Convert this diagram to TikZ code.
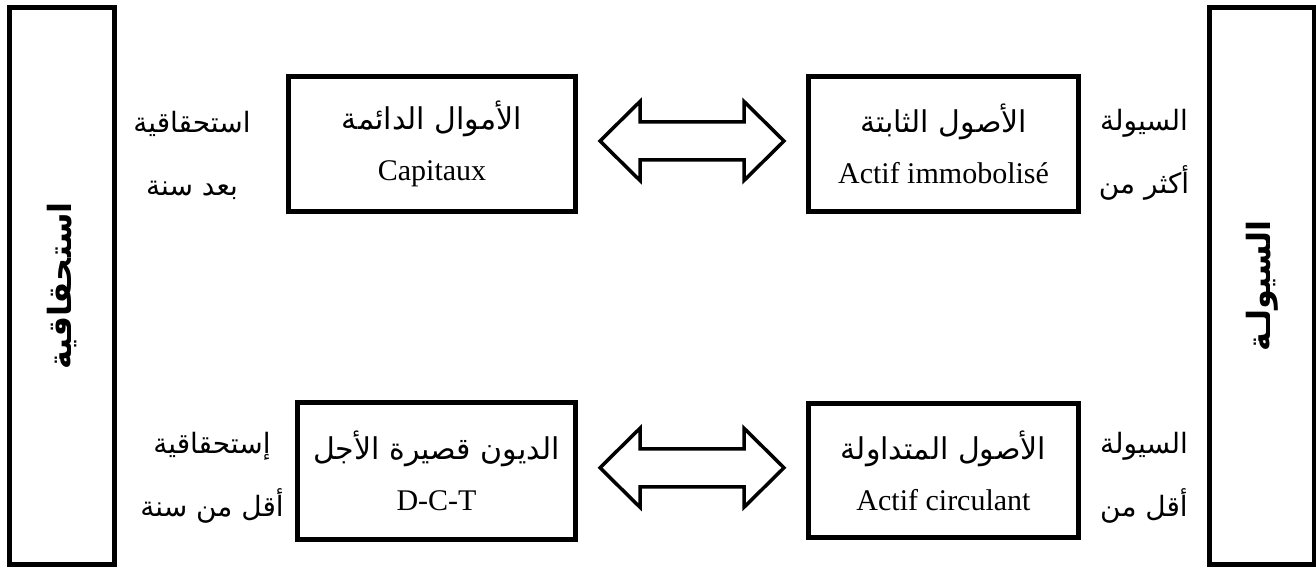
\documentclass[tikz,border=0pt]{standalone}
\usepackage{fontspec}
\usetikzlibrary{calc}
\setmainfont{Liberation Serif}
\newfontfamily\arabicfont[Script=Arabic]{DejaVu Sans}
\TeXXeTstate=1
\newcommand{\AR}[1]{{\arabicfont\beginR #1\endR}}
\begin{document}
\begin{tikzpicture}[x=1pt,y=-1pt,
  box/.style={draw, line width=5pt, inner sep=0pt, align=center,
    font=\fontsize{30}{51}\selectfont},
  tallbox/.style={draw, line width=5pt, inner sep=0pt, rotate=90,
    minimum width=557pt, minimum height=105pt,
    font=\arabicfont\bfseries\fontsize{32}{38}\selectfont},
  lbl/.style={inner sep=0pt, align=center, font=\fontsize{28}{63}\selectfont},
  dbl/.style={draw, line width=3.5pt, line join=miter}]
\useasboundingbox (0,0) rectangle (1316,569);

\node[tallbox] (liab) at (62,286) {\AR{استحقاقية}};
\node[tallbox] (liq) at (1262,286) {\AR{السيولـة}};

\node[box, minimum width=287pt, minimum height=135pt] (cap) at (432,144)
  {\AR{الأموال الدائمة}\\Capitaux};
\node[box, minimum width=270pt, minimum height=135pt] (imm) at (943.5,144)
  {\AR{الأصول الثابتة}\\Actif immobolisé};
\node[box, minimum width=278pt, minimum height=137pt] (dct) at (436.5,471)
  {\AR{الديون قصيرة الأجل}\\D-C-T};
\node[box, minimum width=270pt, minimum height=134pt] (circ) at (943.5,470.5)
  {\AR{الأصول المتداولة}\\Actif circulant};

\node[lbl] (l1) at (192,155) {\AR{استحقاقية}\\\AR{بعد سنة}};
\node[lbl] (l2) at (212,478) {\AR{إستحقاقية}\\\AR{أقل من سنة}};
\node[lbl] (r1) at (1144,155) {\AR{السيولة}\\\AR{أكثر من}};
\node[lbl] (r2) at (1144,478) {\AR{السيولة}\\\AR{أقل من}};

\coordinate (m1) at ($(cap.east)!0.5!(imm.west)$);
\coordinate (m2) at ($(dct.east)!0.5!(circ.west)$);
\foreach \m in {m1,m2}{
  \draw[dbl, shift={(\m)}] (0,-3) ++(-92,0) -- ++(40,-39.5) -- ++(0,20.5)
    -- ++(104,0) -- ++(0,-20.5) -- ++(40,39.5) -- ++(-40,39.5) -- ++(0,-20.5)
    -- ++(-104,0) -- ++(0,20.5) -- cycle;
}
\end{tikzpicture}
\end{document}
